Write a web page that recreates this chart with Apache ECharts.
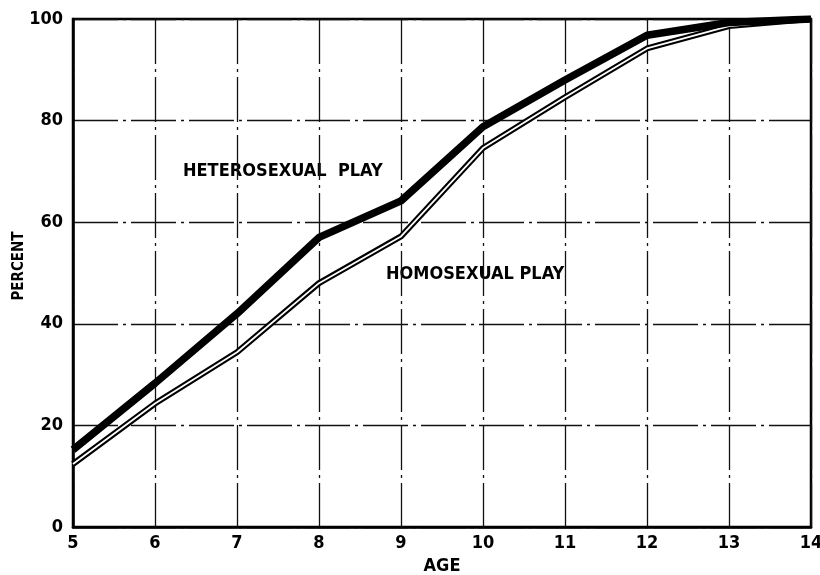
<!DOCTYPE html>
<html>
<head>
<meta charset="utf-8">
<script src="https://cdn.jsdelivr.net/npm/echarts@6/dist/echarts.min.js"></script>
<style>
  html, body { margin: 0; padding: 0; background: #fff; }
  #chart { width: 820px; height: 575px; }
</style>
</head>
<body>
<div id="chart"></div>
<script>
  // ages on the x axis
  const ages = [5, 6, 7, 8, 9, 10, 11, 12, 13, 14]
  // cumulative percent
  const heteroPlay = [15.2, 28.3, 42, 57, 64.2, 78.8, 88, 96.8, 99.3, 100]
  const homoPlay = [12.4, 24.3, 34.4, 48, 57.2, 74.6, 84.6, 94.2, 98.6, 100]

  const pairs = (ys) => ages.map((a, i) => [a, ys[i]])
  const FONT = '"DejaVu Sans Condensed", "DejaVu Sans", sans-serif'
  const gridLine = {color: '#111', width: 1.3, type: [45, 5, 3, 5]}

  let myChart = echarts.init(document.getElementById('chart'))
  myChart.setOption({
    animation: false,
    backgroundColor: '#fff',
    grid: {left: 73, right: 9, top: 19, bottom: 48, outerBoundsMode: 'none', containLabel: false},
    xAxis: {
      type: 'value',
      min: 5,
      max: 14,
      interval: 1,
      name: 'AGE',
      nameLocation: 'middle',
      nameGap: 27,
      nameTextStyle: {color: '#000', fontFamily: FONT, fontWeight: 'bold', fontSize: 18},
      axisLine: {lineStyle: {color: '#000', width: 2.5}},
      axisTick: {show: false},
      axisLabel: {color: '#000', fontFamily: FONT, fontWeight: 'bold', fontSize: 18, margin: 7},
      splitLine: {show: true, lineStyle: gridLine}
    },
    yAxis: {
      type: 'value',
      min: 0,
      max: 100,
      interval: 20,
      axisLine: {show: true, lineStyle: {color: '#000', width: 2.5}},
      axisTick: {show: false},
      axisLabel: {color: '#000', fontFamily: FONT, fontWeight: 'bold', fontSize: 18, margin: 10},
      splitLine: {show: true, lineStyle: gridLine}
    },
    graphic: [
      {
        type: 'rect',
        shape: {x: 73, y: 19, width: 738, height: 508},
        style: {fill: 'none', stroke: '#000', lineWidth: 2.5},
        silent: true
      },
      {
        type: 'text',
        x: 19, y: 266,
        rotation: Math.PI / 2,
        style: {text: 'PERCENT', fill: '#000', font: 'bold 15px ' + FONT, align: 'center', verticalAlign: 'middle'}
      },
      {
        type: 'text',
        left: 183, top: 162,
        style: {text: 'HETEROSEXUAL  PLAY', fill: '#000', font: 'bold 18px ' + FONT}
      },
      {
        type: 'text',
        left: 386, top: 265,
        style: {text: 'HOMOSEXUAL PLAY', fill: '#000', font: 'bold 18px ' + FONT}
      }
    ],
    series: [
      {
        name: 'homo-outer',
        type: 'line',
        data: pairs(homoPlay),
        symbol: 'none',
        lineStyle: {color: '#000', width: 6}
      },
      {
        name: 'homo-inner',
        type: 'line',
        data: pairs(homoPlay),
        symbol: 'none',
        lineStyle: {color: '#fff', width: 1.8}
      },
      {
        name: 'hetero',
        type: 'line',
        data: pairs(heteroPlay),
        symbol: 'none',
        lineStyle: {color: '#000', width: 7.5}
      }
    ]
  })
</script>
</body>
</html>
